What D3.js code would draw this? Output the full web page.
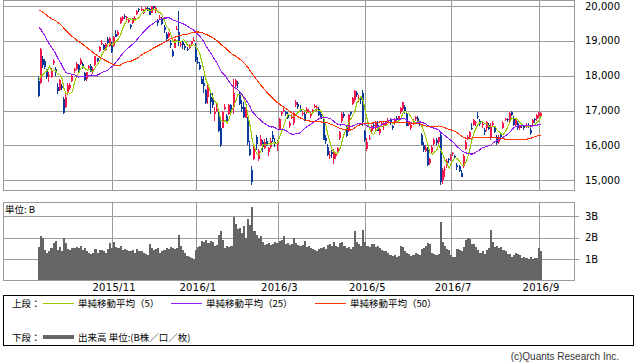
<!DOCTYPE html>
<html>
<head>
<meta charset="utf-8">
<script src="https://cdn.jsdelivr.net/npm/d3@7"></script>
<style>
  body { margin: 0; background: #fff; }
  svg { display: block; }
  .num { font-family: "DejaVu Sans", sans-serif; font-size: 10px; fill: #000; }
  .jp { font-family: "Noto Sans CJK JP", sans-serif; font-size: 9.5px; fill: #000; }
</style>
</head>
<body>
<div id="chart"></div>
<script>
// Closes of the 49 sessions before the first candle (2015/6/30 - 2015/9/7), only used to seed the moving averages.
const priorCloses = [
  20236,
  20329, 20522, 20539, 20112, 20376, 19737, 19855, 19779, 20089, 20385, 20463, 20600, 20650,
  20841, 20593, 20683, 20544, 20350, 20329, 20303, 20523, 20585,
  20548, 20520, 20614, 20664, 20724, 20808, 20720, 20392, 20595, 20519, 20620, 20554, 20222,
  20033, 19435, 18540, 17806, 18376, 18574, 19136, 18890,
  18165, 18095, 18182, 17792, 17860
];

// Daily candles 2015/9/8 - 2016/9/2 : [open, high, low, close]
const candles = [
  // 2015/9
  [17860,17950,17390,17427],[17780,18790,17760,18770],[18480,18560,18230,18299],[18420,18470,18200,18264],
  [18150,18200,17900,17965],[18000,18100,17810,18026],[17960,18220,17940,18171],[18370,18480,18300,18432],
  [18200,18250,17980,18070],[17680,17780,17480,17571],[17600,17900,17550,17880],[17700,17750,17590,17645],
  [17330,17390,16900,16930],[17100,17500,17080,17388],
  // 2015/10
  [17500,17780,17450,17722],[17650,17780,17600,17725],[17850,18050,17820,18005],[18140,18230,18080,18186],
  [18190,18400,18170,18322],[18300,18330,18100,18141],[18350,18500,18310,18438],[18330,18400,18200,18234],
  [18080,18120,17860,17891],[17900,18120,17850,18097],[18230,18300,18180,18291],[18270,18350,18110,18131],
  [18150,18240,18050,18207],[18300,18580,18290,18554],[18500,18520,18390,18435],[18700,18850,18680,18825],
  [18900,19030,18880,18947],[18880,18920,18750,18778],[18750,18940,18700,18903],[19050,19110,18920,18935],
  [18850,19110,18820,19083],
  // 2015/11
  [18900,18960,18660,18683],[18850,19150,18830,19116],[19200,19300,19100,19117],[19180,19300,19150,19265],
  [19500,19680,19480,19642],[19640,19700,19580,19671],[19700,19760,19640,19697],[19660,19720,19600,19691],
  [19530,19640,19500,19596],[19450,19480,19340,19393],[19500,19660,19480,19649],[19600,19700,19590,19649],
  [19760,19890,19740,19859],[19900,19950,19840,19879],[19880,19970,19850,19924],[19800,19900,19760,19847],
  [19900,19970,19880,19944],[19940,19980,19860,19883],[19900,19950,19740,19747],
  // 2015/12
  [19800,20012,19790,20012],[20000,20010,19900,19938],[19860,19990,19800,19939],[19600,19640,19420,19504],
  [19650,19730,19620,19698],[19650,19680,19460,19492],[19400,19450,19220,19301],[19200,19260,19000,19046],
  [19120,19260,19080,19230],[18950,19020,18800,18883],[18700,18760,18540,18565],[18800,19060,18790,19049],
  [19350,19440,19300,19353],[19250,19870,18840,18986],[18900,19000,18820,18916],[18960,18990,18770,18886],
  [18850,18920,18750,18789],[18780,18830,18700,18769],[18800,18900,18760,18873],[18900,19000,18850,18982],
  [19010,19110,18990,19033],
  // 2016/1
  [18818,18951,18394,18450],[18400,18550,18330,18374],[18300,18400,18150,18191],[17900,18000,17750,17767],
  [17800,17980,17510,17697],[17600,17620,17200,17218],[17400,17800,17200,17715],[17400,17500,16900,17240],
  [17400,17500,17070,17147],[16900,17100,16700,16955],[17000,17200,16950,17048],[16900,16950,16390,16416],
  [16500,16800,15960,16017],[16500,17000,16500,16958],[17050,17200,17030,17110],[16850,16900,16650,16708],
  [16900,17200,16860,17163],[17160,17200,16900,17041],[17100,17900,16900,17518],
  // 2016/2
  [17700,17900,17620,17865],[17800,17850,17640,17750],[17500,17550,17150,17191],[17100,17300,16970,17044],
  [17100,17250,16800,16819],[16800,17100,16780,17004],[16800,16830,16000,16085],[15900,16130,15700,15713],
  [15300,15400,14865,14952],[15600,16050,15580,16022],[16250,16300,15880,16054],[15600,15900,15550,15836],
  [16000,16300,15980,16196],[16100,16150,15800,15967],[15930,16180,15900,16111],[16120,16200,15980,16052],
  [15800,15950,15700,15915],[15950,16200,15900,16140],[16300,16400,16100,16188],[16100,16200,15950,16027],
  // 2016/3
  [16000,16150,15830,16085],[16450,16780,16430,16747],[16900,17000,16850,16960],[17000,17100,16950,17015],
  [16950,17000,16850,16912],[16900,16950,16750,16784],[16550,16700,16500,16642],[16800,16900,16750,16852],
  [16650,16950,16600,16939],[17150,17290,17100,17233],[17200,17250,17050,17117],[17050,17150,16950,16975],
  [16900,17000,16850,16937],[16900,16950,16700,16725],[16950,17100,16900,17049],[17000,17050,16950,17001],
  [16850,16950,16800,16892],[16950,17050,16900,17003],[17100,17180,17060,17135],[17100,17150,17000,17103],
  [17050,17100,16850,16879],[16900,17000,16750,16758],
  // 2016/4
  [16700,16750,16150,16164],[16200,16300,16050,16123],[15950,16050,15700,15733],[15700,15850,15600,15715],
  [15800,15880,15650,15749],[15600,15900,15470,15821],[15700,15800,15600,15751],[15800,15950,15750,15928],
  [16200,16400,16150,16381],[16700,16950,16650,16911],[16900,16950,16800,16848],[16500,16550,16250,16275],
  [16400,16900,16380,16875],[16950,17000,16850,16906],[17200,17400,17150,17363],[17300,17600,17250,17572],
  [17500,17550,17400,17440],[17300,17450,17250,17353],[17350,17400,17200,17290],[17500,17600,16550,16666],
  // 2016/5
  [16400,16450,16100,16147],[15900,16200,15850,16106],[16200,16300,16150,16216],[16400,16600,16380,16565],
  [16600,16650,16500,16579],[16500,16700,16450,16646],[16600,16700,16400,16412],[16350,16500,16300,16466],
  [16600,16700,16550,16652],[16550,16700,16450,16644],[16600,16700,16550,16646],[16700,16800,16650,16736],
  [16750,16800,16600,16654],[16550,16600,16450,16498],[16650,16800,16600,16757],[16800,16850,16700,16772],
  [16750,16850,16700,16834],[16950,17100,16900,17068],[17050,17250,17000,17234],
  // 2016/6
  [17100,17150,16900,16955],[16900,16950,16550,16562],[16600,16700,16550,16642],[16500,16650,16450,16580],
  [16650,16750,16600,16675],[16750,16850,16700,16830],[16800,16850,16650,16668],[16650,16700,16550,16601],
  [16300,16350,16000,16019],[16000,16100,15800,15859],[15850,16000,15800,15919],[15900,15950,15400,15434],
  [15500,15650,15450,15599],[15800,16000,15780,15965],[16050,16200,16000,16169],[16150,16200,16000,16065],
  [16100,16250,16050,16238],[16300,16400,14864,14952],[15000,15350,14900,15309],[15300,15400,15100,15323],
  [15400,15600,15350,15566],[15600,15650,15500,15575],
  // 2016/7
  [15600,15750,15550,15682],[15750,15800,15700,15775],[15700,15720,15600,15669],[15450,15500,15300,15378],
  [15400,15450,15250,15276],[15200,15300,15100,15106],[15400,15750,15350,15708],[15900,16150,15880,16095],
  [16200,16300,16150,16231],[16250,16400,16200,16385],[16500,16650,16450,16497],[16600,16750,16550,16723],
  [16650,16700,16550,16681],[16850,16950,16750,16810],[16700,16750,16550,16627],[16600,16700,16500,16620],
  [16450,16500,16300,16383],[16500,16700,16400,16664],[16600,16650,16450,16476],[16200,16650,16150,16569],
  // 2016/8
  [16600,16700,16550,16635],[16500,16550,16350,16391],[16250,16300,16000,16083],[16100,16300,16050,16254],
  [16300,16350,16200,16254],[16500,16700,16480,16650],[16750,16800,16700,16764],[16750,16800,16680,16735],
  [16700,16950,16680,16919],[16950,17000,16850,16869],[16800,16850,16550,16596],[16600,16800,16550,16745],
  [16650,16700,16450,16486],[16500,16600,16450,16545],[16600,16650,16500,16598],[16550,16600,16450,16497],
  [16550,16650,16500,16597],[16600,16650,16500,16555],[16450,16500,16300,16360],[16650,16750,16600,16737],
  [16750,16800,16650,16725],[16750,16900,16700,16887],
  // 2016/9
  [16850,16950,16800,16926],[16850,16950,16800,16925]
];

// Volume in billions of shares, one per candle
const volumes = [
  1.55,2.05,2.0,1.4,1.3,1.35,1.5,1.75,1.85,1.4,1.55,1.35,2.0,1.75,
  1.45,1.4,1.5,1.5,1.55,1.5,1.6,1.4,1.5,1.35,1.3,1.25,1.3,1.45,1.3,1.4,1.4,1.35,1.3,1.45,1.75,
  1.5,1.8,1.55,1.5,1.6,1.4,1.45,1.4,1.35,1.35,1.4,1.3,1.45,1.35,1.35,1.3,1.25,1.2,1.7,
  1.5,1.4,1.45,1.5,1.3,1.35,1.4,1.5,1.45,1.55,1.5,1.45,1.5,2.1,1.6,1.4,1.3,1.15,1.1,1.05,1.0,
  1.4,1.55,1.6,1.85,1.8,1.9,1.75,1.85,1.8,1.6,1.65,2.1,2.3,1.9,1.5,1.6,1.55,1.6,2.95,
  2.65,2.4,2.45,2.2,2.55,2.0,2.85,2.6,3.43,2.3,2.1,2.0,2.05,1.8,1.65,1.7,1.75,1.65,1.7,1.8,
  1.75,1.85,1.9,2.05,1.7,1.75,1.65,1.7,2.0,1.75,1.65,1.6,1.65,1.85,1.55,1.6,1.5,1.45,1.4,1.35,1.45,1.5,
  1.55,1.45,1.65,1.7,1.6,1.8,1.6,1.55,1.75,1.8,1.6,1.5,1.55,1.45,1.55,2.3,1.8,1.7,1.6,2.35,
  1.8,1.6,1.55,1.7,1.7,1.55,1.6,1.5,1.4,1.35,1.35,1.3,1.2,1.15,1.2,1.1,1.15,1.6,1.55,
  1.35,1.3,1.25,1.15,1.2,1.3,1.25,1.2,1.45,1.5,1.6,1.75,1.7,1.3,1.25,1.2,1.25,2.7,1.8,1.6,1.45,1.4,
  1.2,1.1,1.1,1.45,1.4,1.35,1.55,1.9,2.0,1.95,1.7,1.7,1.55,1.4,1.3,1.35,1.25,1.4,1.5,2.35,
  1.8,1.55,1.6,1.5,1.55,1.4,1.35,1.25,1.25,1.1,1.2,1.3,1.25,1.2,1.05,1.1,1.05,1.0,1.1,1.0,1.05,1.05,
  1.5,1.35
];

// Candle index of the first session of each labelled month
const monthTicks = [35, 75, 114, 156, 197, 239];
const monthLabels = ["2015/11", "2016/1", "2016/3", "2016/5", "2016/7", "2016/9"];
const priceTicks = [15000, 16000, 17000, 18000, 19000, 20000];
const volumeTicks = [1, 2, 3];
const maPeriods = [5, 25, 50];
const maNames = ["単純移動平均（5）", "単純移動平均（25）", "単純移動平均（50）"];

const maColors = ["#99cc00", "#9a1cf5", "#ff3300"];
const upColor = "#f5174d";
const downColor = "#0a3b9c";
const gridColor = "#9a9a9a";

const width = 638, height = 362;
const plot = { left: 3, right: 574, top: 0, bottom: 190 };
const vol = { top: 202, bottom: 280 };

const svg = d3.select("#chart").append("svg")
  .attr("width", width)
  .attr("height", height);

// Scales: one slot per trading session, with empty space before and after the data.
const x = d3.scaleLinear().domain([-17.2, 255.7]).range([plot.left, plot.right]);
const step = x(1) - x(0);
const y = d3.scaleLinear().domain([15000, 20000]).range([180.3, 6]);
const yv = d3.scaleLinear().domain([0, 3]).range([280.5, 216]);
const px = v => Math.round(v) + 0.5;

// ---- price panel frame and grid
const gPrice = svg.append("g").attr("shape-rendering", "crispEdges");
gPrice.selectAll("line.h").data(priceTicks).enter().append("line")
  .attr("x1", plot.left).attr("x2", plot.right)
  .attr("y1", d => px(y(d))).attr("y2", d => px(y(d)))
  .attr("stroke", gridColor);
gPrice.selectAll("line.v").data(monthTicks).enter().append("line")
  .attr("x1", d => px(x(d))).attr("x2", d => px(x(d)))
  .attr("y1", plot.top).attr("y2", plot.bottom)
  .attr("stroke", gridColor);
gPrice.append("rect")
  .attr("x", plot.left + 0.5).attr("y", plot.top + 0.5)
  .attr("width", plot.right - plot.left).attr("height", plot.bottom - plot.top)
  .attr("fill", "none").attr("stroke", gridColor);

svg.append("g").selectAll("text").data(priceTicks).enter().append("text")
  .attr("class", "num")
  .attr("x", 585).attr("y", d => y(d)).attr("dy", "0.36em")
  .text(d => d3.format(",")(d));

// ---- candles
const gCandle = svg.append("g").attr("shape-rendering", "crispEdges");
candles.forEach(function(c, i) {
  const [o, h, l, cl] = c;
  const color = cl >= o ? upColor : downColor;
  const bx = Math.round(x(i) - 1);
  gCandle.append("rect")
    .attr("x", bx).attr("width", 1)
    .attr("y", Math.round(y(h))).attr("height", Math.max(1, Math.round(y(l)) - Math.round(y(h))))
    .attr("fill", color);
  const top = Math.round(y(Math.max(o, cl)));
  const bot = Math.round(y(Math.min(o, cl)));
  gCandle.append("rect")
    .attr("x", bx).attr("width", 2)
    .attr("y", top).attr("height", Math.max(1, bot - top))
    .attr("fill", color);
});

// ---- moving averages
const allCloses = priorCloses.concat(candles.map(d => d[3]));
svg.append("clipPath").attr("id", "clipPrice").append("rect")
  .attr("x", plot.left).attr("y", plot.top + 1)
  .attr("width", plot.right - plot.left).attr("height", plot.bottom - plot.top - 1);

const maLine = d3.line().x(d => x(d.i)).y(d => y(d.v));
maPeriods.forEach(function(n, k) {
  const pts = candles.map(function(d, i) {
    const end = priorCloses.length + i + 1;
    return { i: i, v: d3.mean(allCloses.slice(end - n, end)) };
  });
  svg.append("path")
    .attr("clip-path", "url(#clipPrice)")
    .attr("d", maLine(pts))
    .attr("fill", "none")
    .attr("stroke", maColors[k])
    .attr("stroke-width", 1.1)
    .attr("shape-rendering", "crispEdges");
});

// ---- volume panel
const gVol = svg.append("g").attr("shape-rendering", "crispEdges");
gVol.selectAll("line.h").data(volumeTicks).enter().append("line")
  .attr("x1", plot.left).attr("x2", plot.right + 5)
  .attr("y1", d => px(yv(d))).attr("y2", d => px(yv(d)))
  .attr("stroke", gridColor);
gVol.selectAll("line.v").data(monthTicks).enter().append("line")
  .attr("x1", d => px(x(d))).attr("x2", d => px(x(d)))
  .attr("y1", vol.top).attr("y2", vol.bottom)
  .attr("stroke", gridColor);
gVol.selectAll("rect.bar").data(volumes).enter().append("rect")
  .attr("x", (d, i) => Math.round(x(i) - step / 2))
  .attr("width", (d, i) => Math.round(x(i) + step / 2) - Math.round(x(i) - step / 2))
  .attr("y", d => Math.round(yv(d)))
  .attr("height", d => vol.bottom + 0.5 - Math.round(yv(d)))
  .attr("fill", "#666666");
gVol.append("rect")
  .attr("x", plot.left + 0.5).attr("y", vol.top + 0.5)
  .attr("width", plot.right - plot.left).attr("height", vol.bottom - vol.top)
  .attr("fill", "none").attr("stroke", gridColor);

svg.append("g").selectAll("text").data(volumeTicks).enter().append("text")
  .attr("class", "num")
  .attr("x", 585).attr("y", d => yv(d)).attr("dy", "0.36em")
  .text(d => d + "B");

svg.append("text").attr("class", "jp")
  .attr("x", 5).attr("y", 212.5).text("単位: B");

// ---- month labels
svg.append("g").selectAll("text").data(monthTicks).enter().append("text")
  .attr("class", "num")
  .attr("x", d => x(d) + 2).attr("y", 291)
  .attr("text-anchor", "middle")
  .style("letter-spacing", "0.3px")
  .text((d, i) => monthLabels[i]);

// ---- legend
const leg = svg.append("g");
leg.append("rect")
  .attr("x", 3.5).attr("y", 295.5).attr("width", 630).attr("height", 50)
  .attr("fill", "none").attr("stroke", "#000").attr("shape-rendering", "crispEdges");

leg.append("text").attr("class", "jp").attr("x", 12).attr("y", 306.5).text("上段：");
const legX = [43, 171, 315];
maNames.forEach(function(name, k) {
  leg.append("line")
    .attr("x1", legX[k]).attr("x2", legX[k] + 31)
    .attr("y1", 303.5).attr("y2", 303.5)
    .attr("stroke", maColors[k]).attr("shape-rendering", "crispEdges");
  leg.append("text").attr("class", "jp")
    .attr("x", legX[k] + 35).attr("y", 306.5).text(name);
});

leg.append("text").attr("class", "jp").attr("x", 12).attr("y", 340.5).text("下段：");
leg.append("line")
  .attr("x1", 43).attr("x2", 74).attr("y1", 337).attr("y2", 337)
  .attr("stroke", "#666666").attr("stroke-width", 4).attr("shape-rendering", "crispEdges");
leg.append("text").attr("class", "jp").attr("x", 78).attr("y", 340.5)
  .text("出来高 単位:(B株／口／枚)");

svg.append("text")
  .attr("x", 619).attr("y", 359.5)
  .attr("text-anchor", "end")
  .style("font-family", "Liberation Sans, sans-serif")
  .style("font-size", "10px")
  .style("fill", "#333")
  .text("(c)Quants Research Inc.");
</script>
</body>
</html>
